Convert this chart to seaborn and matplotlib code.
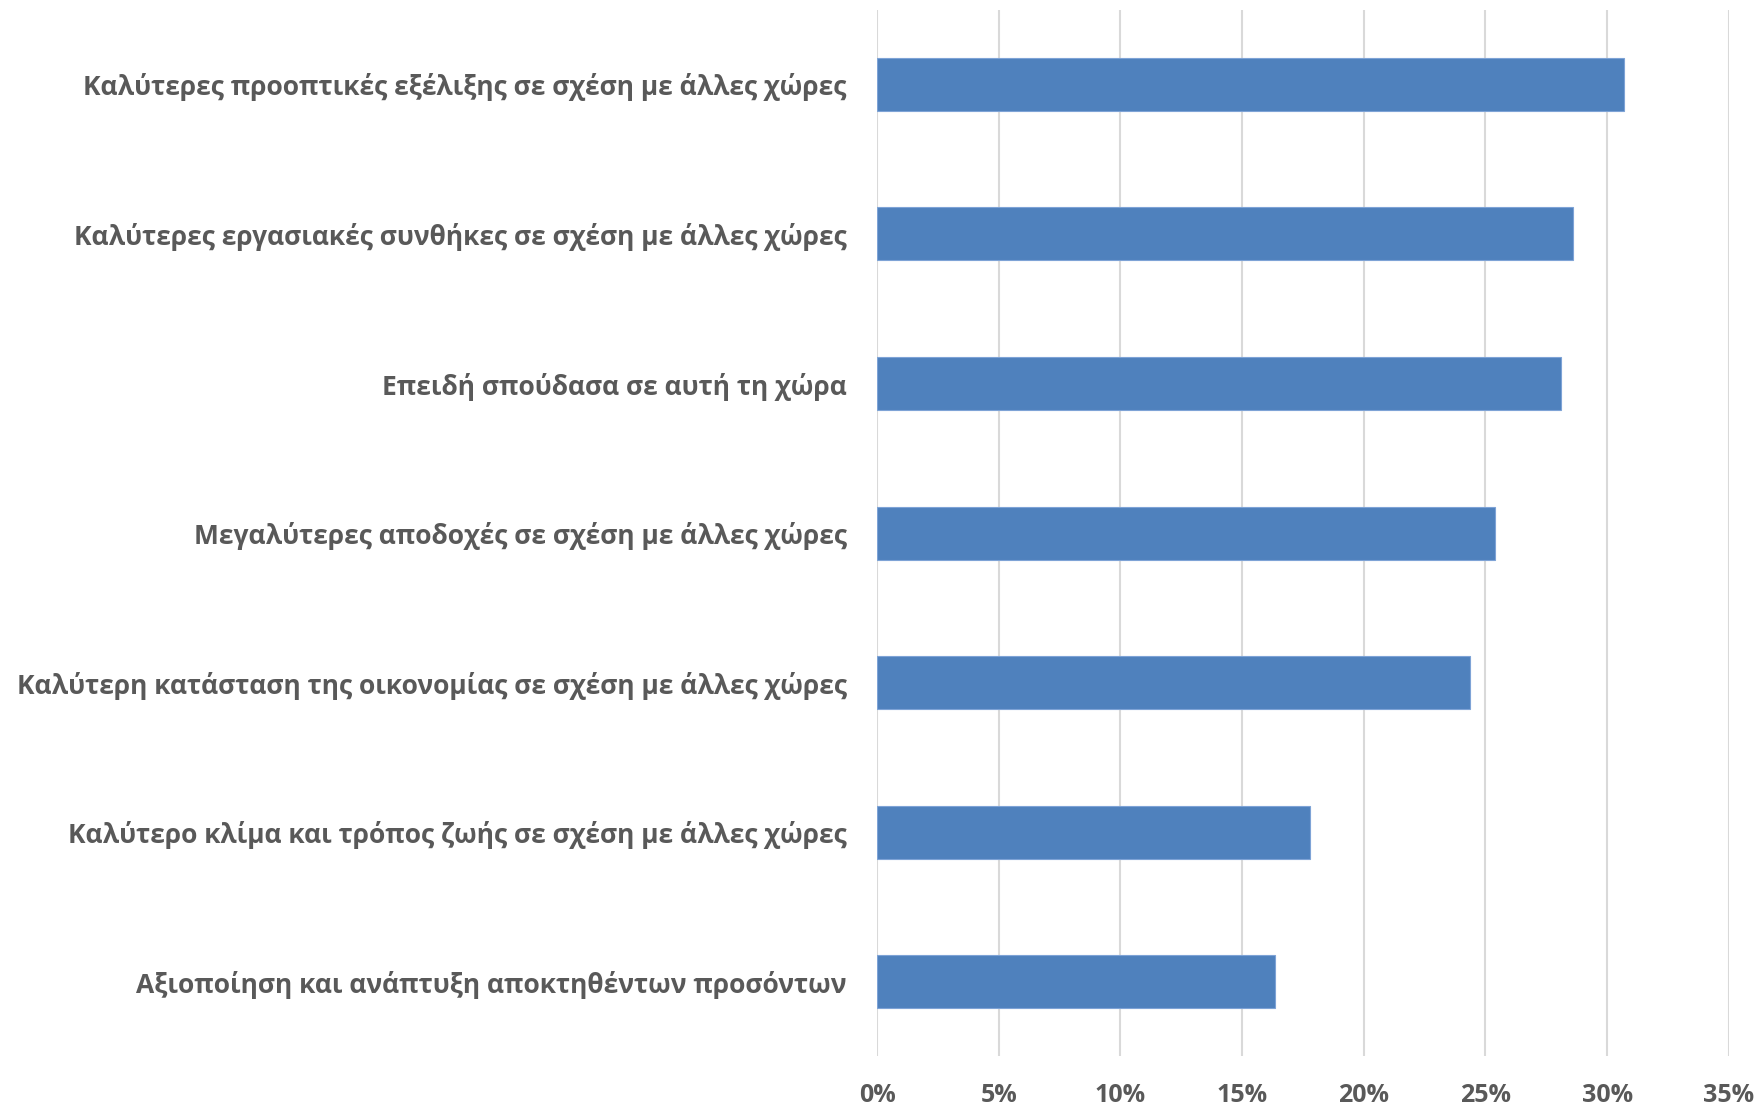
import numpy as np
import pandas as pd
import seaborn as sns
import matplotlib.pyplot as plt
from matplotlib.ticker import PercentFormatter

# reasons, top to bottom as in the chart
reasons = [
    "Καλύτερες προοπτικές εξέλιξης σε σχέση με άλλες χώρες",
    "Καλύτερες εργασιακές συνθήκες σε σχέση με άλλες χώρες",
    "Επειδή σπούδασα σε αυτή τη χώρα",
    "Μεγαλύτερες αποδοχές σε σχέση με άλλες χώρες",
    "Καλύτερη κατάσταση της οικονομίας σε σχέση με άλλες χώρες",
    "Καλύτερο κλίμα και τρόπος ζωής σε σχέση με άλλες χώρες",
    "Αξιοποίηση και ανάπτυξη αποκτηθέντων προσόντων",
]
shares = [30.7, 28.6, 28.1, 25.4, 24.35, 17.8, 16.35]
x_ticks = [0, 5, 10, 15, 20, 25, 30, 35]

df = pd.DataFrame({"reason": reasons, "share": shares})

sns.set_style("white")
plt.rcParams['font.family'] = ['Open Sans', 'DejaVu Sans']

fig = plt.figure(figsize=(17.54, 11.08), dpi=100)
ax = fig.add_axes([0.5001, 0.0465, 0.4855, 0.9448])

sns.barplot(data=df, x="share", y="reason", orient="h", color="#4f81bd",
            saturation=1, width=0.354, ax=ax, edgecolor="#7ea3d6", linewidth=0.8)

ax.set_xlim(0, 35)
ax.set_xticks(x_ticks)
ax.xaxis.set_major_formatter(PercentFormatter(decimals=0))
ax.set_ylim(len(reasons) - 0.5, -0.5)
ax.grid(axis="x", color="#d9d9d9", linewidth=1.5)
ax.set_axisbelow(True)
for s in ax.spines.values():
    s.set_visible(False)
ax.tick_params(axis="both", length=0)
ax.tick_params(axis="y", pad=22)
ax.tick_params(axis="x", pad=19)
for lbl in ax.get_yticklabels():
    lbl.set_fontsize(19)
    lbl.set_fontweight("bold")
    lbl.set_color("#595959")
for lbl in ax.get_xticklabels():
    lbl.set_fontsize(18)
    lbl.set_fontweight("bold")
    lbl.set_color("#595959")
ax.set_xlabel("")
ax.set_ylabel("")

fig.savefig("out.png", dpi=100)
